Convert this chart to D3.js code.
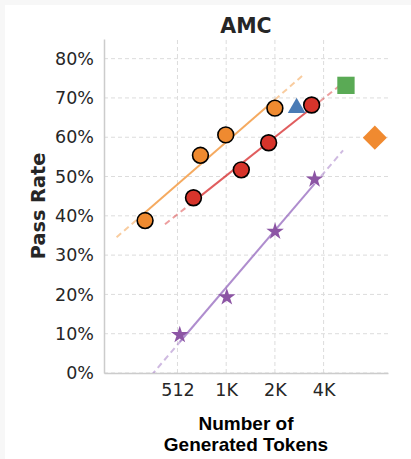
<!DOCTYPE html>
<html>
<head>
<meta charset="utf-8">
<script src="https://cdn.jsdelivr.net/npm/d3@7"></script>
<style>
  body { margin: 0; background: #f7f7f7; }
  .tick text { font-family: "DejaVu Sans", sans-serif; font-size: 17.5px; fill: #262626; }
</style>
</head>
<body>
<script>
// size of svg and plot margins
var fullWidth = 411;
var fullHeight = 459;
var margin = {top: 39, right: 23, bottom: 86, left: 104};

// data (tokens, pass rate)
var orangeTokens = [323, 710, 1018, 2048];
var orangeRates = [0.388, 0.554, 0.606, 0.674];
var redTokens = [643, 1270, 1874, 3455];
var redRates = [0.446, 0.517, 0.586, 0.682];
var purpleTokens = [529, 1033, 2054, 3601];
var purpleRates = [0.097, 0.193, 0.360, 0.493];
var triangle = {tokens: 2790, rate: 0.681};
var square = {tokens: 5630, rate: 0.732};
var diamond = {tokens: 8490, rate: 0.599};

var xTicks = [512, 1024, 2048, 4096];
var xTickLabels = ["512", "1K", "2K", "4K"];
var yTicks = [0, 0.1, 0.2, 0.3, 0.4, 0.5, 0.6, 0.7, 0.8];

var svg = d3.select("body").append("svg")
    .attr("width", fullWidth)
    .attr("height", fullHeight);

// white panel on light grey page
svg.append("rect").attr("width", fullWidth).attr("height", fullHeight).attr("fill", "#f7f7f7");
svg.append("rect").attr("x", 5).attr("y", 5)
   .attr("width", fullWidth - 5).attr("height", fullHeight - 5).attr("fill", "#fff");

var xScale = d3.scaleLog().base(2)
    .domain([180, 10240])
    .range([margin.left, fullWidth - margin.right]);
var yScale = d3.scaleLinear()
    .domain([0, 0.85])
    .range([fullHeight - margin.bottom, margin.top]);

var x0 = margin.left, x1 = fullWidth - margin.right;
var y0 = fullHeight - margin.bottom, y1 = margin.top;

svg.append("clipPath").attr("id", "plotClip")
   .append("rect").attr("x", x0).attr("y", y1).attr("width", x1 - x0).attr("height", y0 - y1);

// grid lines
svg.append("g").selectAll("line").data(xTicks).enter().append("line")
   .attr("x1", d => xScale(d)).attr("x2", d => xScale(d))
   .attr("y1", y0).attr("y2", y1)
   .attr("stroke", "#dcdcdc").attr("stroke-width", 1).attr("stroke-dasharray", "4,3");
svg.append("g").selectAll("line").data(yTicks).enter().append("line")
   .attr("x1", x0).attr("x2", x1)
   .attr("y1", d => yScale(d)).attr("y2", d => yScale(d))
   .attr("stroke", "#dcdcdc").attr("stroke-width", 1).attr("stroke-dasharray", "4,3");

// axes
var xAxis = d3.axisBottom(xScale).tickValues(xTicks)
    .tickFormat((d, i) => xTickLabels[i]).tickSize(0).tickPadding(11);
var yAxis = d3.axisLeft(yScale).tickValues(yTicks)
    .tickFormat(d3.format(".0%")).tickSize(0).tickPadding(10);

var gx = svg.append("g").attr("transform", "translate(0," + y0 + ")").call(xAxis);
var gy = svg.append("g").attr("transform", "translate(" + x0 + ",0)").call(yAxis);
gx.select(".domain").attr("stroke", "#cccccc").attr("stroke-width", 1.5);
gy.select(".domain").attr("stroke", "#cccccc").attr("stroke-width", 1.5);

// least squares fit in log2(tokens), drawn solid over data and dashed beyond
function drawFit(tokens, rates, color) {
    var lx = tokens.map(t => Math.log2(t));
    var mx = d3.mean(lx), my = d3.mean(rates);
    var sxy = d3.sum(lx, (v, i) => (v - mx) * (rates[i] - my));
    var sxx = d3.sum(lx, v => (v - mx) * (v - mx));
    var slope = sxy / sxx;
    var fit = t => my + slope * (Math.log2(t) - mx);
    var lo = d3.min(tokens), hi = d3.max(tokens);
    var g = svg.append("g").attr("clip-path", "url(#plotClip)");
    var seg = function(a, b, dashed) {
        g.append("line")
         .attr("x1", xScale(a)).attr("y1", yScale(fit(a)))
         .attr("x2", xScale(b)).attr("y2", yScale(fit(b)))
         .attr("stroke", color).attr("stroke-width", 2)
         .attr("stroke-opacity", dashed ? 0.45 : 0.75)
         .attr("stroke-dasharray", dashed ? "6,4" : null);
    };
    seg(lo / 1.5, lo, true);
    seg(lo, hi, false);
    seg(hi, hi * 1.5, true);
}

drawFit(orangeTokens, orangeRates, "#f28e2b");
drawFit(redTokens, redRates, "#d62728");
drawFit(purpleTokens, purpleRates, "#9467bd");

// markers
function drawCircles(tokens, rates, color) {
    svg.append("g").selectAll("circle").data(tokens).enter().append("circle")
       .attr("cx", d => xScale(d))
       .attr("cy", (d, i) => yScale(rates[i]))
       .attr("r", 7.9)
       .attr("fill", color).attr("stroke", "#000").attr("stroke-width", 1.6);
}
drawCircles(orangeTokens, orangeRates, "#ef8a30");
drawCircles(redTokens, redRates, "#d7342b");

svg.append("g").selectAll("path").data(purpleTokens).enter().append("path")
   .attr("d", d3.symbol().type(d3.symbolStar).size(95))
   .attr("transform", (d, i) => "translate(" + xScale(d) + "," + yScale(purpleRates[i]) + ")")
   .attr("fill", "#8c55a4");

// triangle shifted so its bounding box is centred on the point
svg.append("path")
   .attr("d", d3.symbol().type(d3.symbolTriangle).size(135))
   .attr("transform", "translate(" + xScale(triangle.tokens) + "," + (yScale(triangle.rate) + 2.5) + ")")
   .attr("fill", "#4a7bb5");
svg.append("path")
   .attr("d", d3.symbol().type(d3.symbolSquare).size(300))
   .attr("transform", "translate(" + xScale(square.tokens) + "," + yScale(square.rate) + ")")
   .attr("fill", "#5aaa55");
svg.append("path")
   .attr("d", d3.symbol().type(d3.symbolSquare).size(290))
   .attr("transform", "translate(" + xScale(diamond.tokens) + "," + yScale(diamond.rate) + ") rotate(45)")
   .attr("fill", "#f08a30");

// titles
svg.append("text")
   .attr("x", (x0 + x1) / 2).attr("y", 33)
   .attr("text-anchor", "middle")
   .style("font-family", "DejaVu Sans, sans-serif").style("font-size", "20.5px")
   .style("font-weight", "bold").style("fill", "#262626")
   .text("AMC");

svg.append("text")
   .attr("transform", "translate(45," + ((y0 + y1) / 2) + ") rotate(-90)")
   .attr("text-anchor", "middle")
   .style("font-family", "DejaVu Sans, sans-serif").style("font-size", "19.3px")
   .style("font-weight", "bold").style("fill", "#262626")
   .text("Pass Rate");

var xLabel = svg.append("text")
   .attr("text-anchor", "middle")
   .style("font-family", "Liberation Sans, Arial, sans-serif").style("font-size", "19px")
   .style("font-weight", "bold").style("fill", "#000");
xLabel.append("tspan").attr("x", (x0 + x1) / 2).attr("y", 430).text("Number of");
xLabel.append("tspan").attr("x", (x0 + x1) / 2).attr("y", 451).text("Generated Tokens");
</script>
</body>
</html>
